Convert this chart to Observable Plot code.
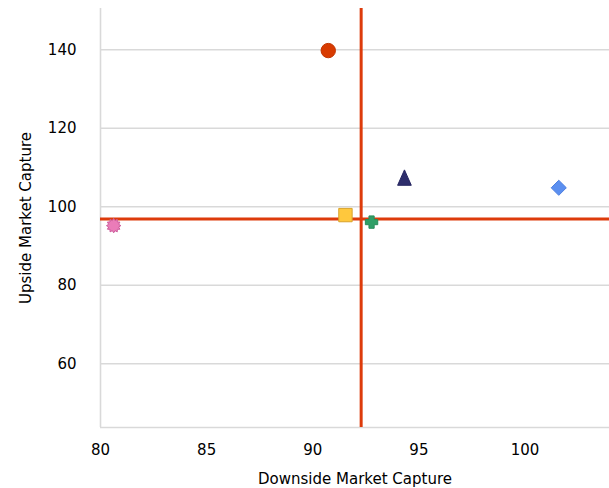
<!DOCTYPE html>
<html>
<head>
<meta charset="utf-8">
<script src="https://cdn.jsdelivr.net/npm/d3@7"></script>
<script src="https://cdn.jsdelivr.net/npm/@observablehq/plot@0.6"></script>
<style>
  html, body { margin: 0; padding: 0; background: #fff; }
  #chart svg { display: block; }
</style>
</head>
<body>
<div id="chart"></div>
<script>
// Data
const series = ["Series 1", "Series 2", "Series 3", "Series 4", "Series 5", "Series 6"];
const downside = [90.73, 80.62, 91.54, 92.77, 94.32, 101.59];
const upside = [139.8, 95.2, 97.89, 96.1, 107.44, 104.84];
const shapes = ["circle", "burst", "square", "plus", "triangle", "diamond"];
const fills = ["#d83b01", "#ea7cb8", "#ffc83d", "#2f9e66", "#2e2e6c", "#5b8ff0"];
const strokes = ["#c23400", "#cc5c9c", "#d9a22a", "#2a8c5a", "#252560", "#4d7fe0"];

const xTicks = [80, 85, 90, 95, 100];
const yTicks = [60, 80, 100, 120, 140];
const xRef = [92.28];
const yRef = [96.87];

const xDomain = [80, 103.98];
const yDomain = [43.77, 150.52];

// custom symbols (R = sqrt(size/π))
const sym = {
  circle: {draw(c, s) { const R = Math.sqrt(s / Math.PI); c.moveTo(R, 0); c.arc(0, 0, R, 0, 2 * Math.PI); }},
  square: {draw(c, s) { const R = Math.sqrt(s / Math.PI) * 0.93; c.rect(-R, -R, 2 * R, 2 * R); }},
  diamond: {draw(c, s) { const R = Math.sqrt(s / Math.PI) * 1.05; c.moveTo(0, -R); c.lineTo(R, 0); c.lineTo(0, R); c.lineTo(-R, 0); c.closePath(); }},
  triangle: {draw(c, s) { const R = Math.sqrt(s / Math.PI); const h = R * 1.07, w = R * 0.95; c.moveTo(0, -h); c.lineTo(w, h); c.lineTo(-w, h); c.closePath(); }},
  plus: {draw(c, s) { const R = Math.sqrt(s / Math.PI) * 0.86; const t = R * 0.42;
    c.moveTo(-t, -R); c.lineTo(t, -R); c.lineTo(t, -t); c.lineTo(R, -t); c.lineTo(R, t); c.lineTo(t, t);
    c.lineTo(t, R); c.lineTo(-t, R); c.lineTo(-t, t); c.lineTo(-R, t); c.lineTo(-R, -t); c.lineTo(-t, -t); c.closePath(); }},
  burst: {draw(c, s) { const R = Math.sqrt(s / Math.PI) * 1.0; const n = 12, ri = R * 0.72;
    for (let i = 0; i < 2 * n; i++) { const a = Math.PI * i / n - Math.PI / 2; const r = i % 2 ? ri : R;
      if (i === 0) c.moveTo(r * Math.cos(a), r * Math.sin(a)); else c.lineTo(r * Math.cos(a), r * Math.sin(a)); }
    c.closePath(); }}
};

const pts = series.map((s, i) => ({name: s, x: downside[i], y: upside[i], sym: sym[shapes[i]], fill: fills[i], stroke: strokes[i]}));

const grid = "#d9d9d9";
const red = "#dd3b0b";

const chart = Plot.plot({
  width: 609,
  height: 488,
  marginLeft: 100,
  marginRight: 0,
  marginTop: 8,
  marginBottom: 61,
  style: {fontFamily: "DejaVu Sans", fontSize: "15px", color: "#000", background: "#fff"},
  x: {domain: xDomain, ticks: xTicks, tickSize: 0, tickPadding: 17, label: "Downside Market Capture",
      labelAnchor: "center", labelArrow: "none", labelOffset: 56},
  y: {domain: yDomain, ticks: yTicks, tickSize: 0, tickPadding: 24, label: "Upside Market Capture",
      labelAnchor: "center", labelArrow: "none", labelOffset: 80},
  marks: [
    Plot.ruleY(yTicks, {stroke: grid, strokeWidth: 1.6}),
    Plot.ruleX([xDomain[0]], {stroke: grid, strokeWidth: 1.6}),
    Plot.ruleY([yDomain[0]], {stroke: grid, strokeWidth: 1.6}),
    Plot.ruleX(xRef, {stroke: red, strokeWidth: 3}),
    Plot.ruleY(yRef, {stroke: red, strokeWidth: 3}),
    Plot.dot(pts, {x: "x", y: "y", symbol: "sym", r: 7.2, fill: d => d.fill, stroke: d => d.stroke, strokeWidth: 1})
  ]
});

document.getElementById("chart").appendChild(chart);
</script>
</body>
</html>
